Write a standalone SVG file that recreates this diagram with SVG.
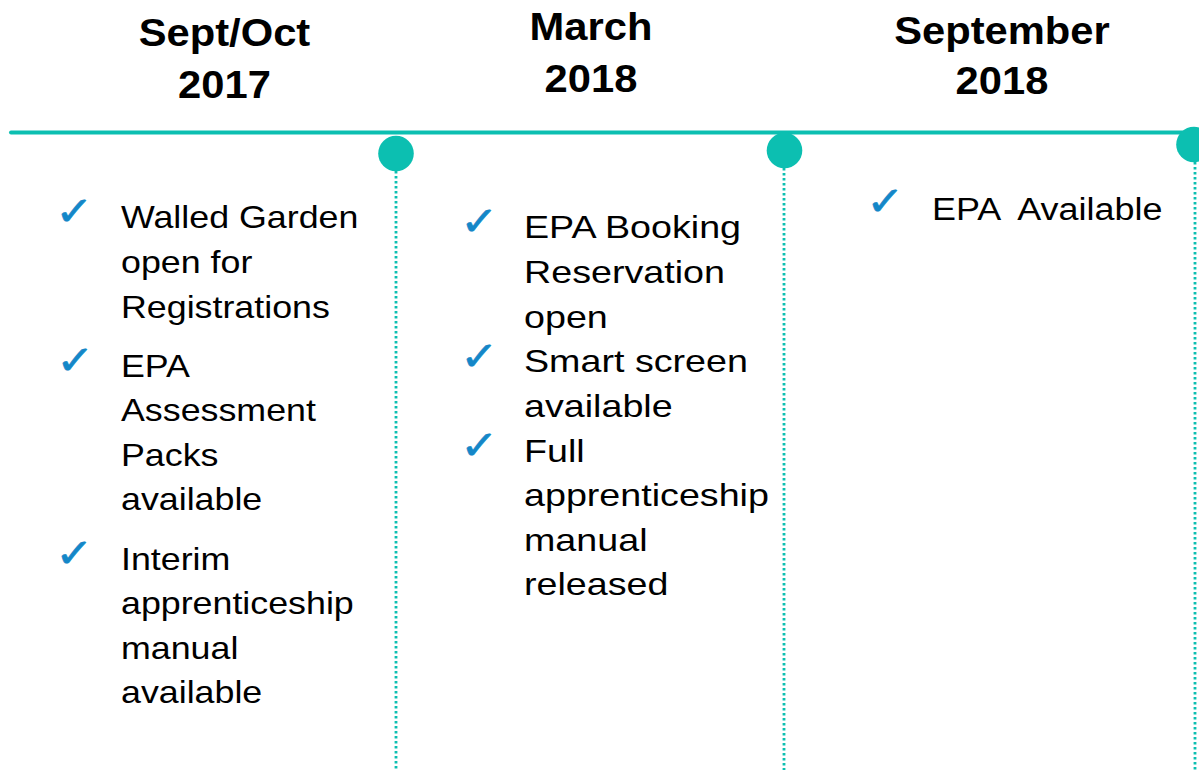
<svg xmlns="http://www.w3.org/2000/svg" width="1199" height="770" viewBox="0 0 1199 770">
<style>
.hdr{font-family:"Liberation Sans",Arial,sans-serif;font-weight:bold;font-size:39px;fill:#000;text-anchor:middle}
.body{font-family:"Liberation Sans",Arial,sans-serif;font-size:31px;fill:#000}
.chk{font-family:"DejaVu Sans",sans-serif;font-size:40px;fill:#1487C8;stroke:#1487C8;stroke-width:0.6}
.dot{stroke:#0CBFB1;stroke-width:2.8;stroke-dasharray:2.5 2.5;fill:none}
.node{fill:#0CBFB1}
</style>
<rect width="1199" height="770" fill="#fff"/>
<g id="connectors">
  <line x1="11" y1="132.5" x2="1199" y2="132.5" stroke="#0CBFB1" stroke-width="4" stroke-linecap="round"/>
  <line class="dot" x1="396" y1="171" x2="396" y2="770"/>
  <line class="dot" x1="784" y1="168" x2="784" y2="770"/>
  <line class="dot" x1="1195" y1="162" x2="1195" y2="770"/>
</g>
<g id="node-sept-oct-2017">
  <circle class="node" cx="396" cy="153.5" r="17.8"/>
  <g transform="scale(1.07,1)">
    <text class="hdr" x="209.8" y="46">Sept/Oct</text>
    <text class="hdr" x="209.8" y="98">2017</text>
  </g>
  <text class="chk" transform="translate(55,225.4) scale(1.15,1)">✓</text>
  <text class="chk" transform="translate(56,374.4) scale(1.15,1)">✓</text>
  <text class="chk" transform="translate(55,567.4) scale(1.15,1)">✓</text>
  <g transform="translate(121,0) scale(1.155,1)">
    <text class="body" x="0" y="228">Walled Garden</text>
    <text class="body" x="0" y="273">open for</text>
    <text class="body" x="0" y="318">Registrations</text>
    <text class="body" x="0" y="377">EPA</text>
    <text class="body" x="0" y="421">Assessment</text>
    <text class="body" x="0" y="466">Packs</text>
    <text class="body" x="0" y="510">available</text>
    <text class="body" x="0" y="570">Interim</text>
    <text class="body" x="0" y="614">apprenticeship</text>
    <text class="body" x="0" y="659">manual</text>
    <text class="body" x="0" y="703">available</text>
  </g>
</g>
<g id="node-march-2018">
  <circle class="node" cx="784.5" cy="150.5" r="17.8"/>
  <g transform="scale(1.07,1)">
    <text class="hdr" x="552.3" y="40">March</text>
    <text class="hdr" x="552.3" y="92">2018</text>
  </g>
  <text class="chk" transform="translate(460,235.4) scale(1.15,1)">✓</text>
  <text class="chk" transform="translate(460,370.4) scale(1.15,1)">✓</text>
  <text class="chk" transform="translate(460,459.4) scale(1.15,1)">✓</text>
  <g transform="translate(524,0) scale(1.215,1)">
    <text class="body" x="0" y="238">EPA Booking</text>
    <text class="body" x="0" y="283">Reservation</text>
    <text class="body" x="0" y="328">open</text>
    <text class="body" x="0" y="372">Smart screen</text>
    <text class="body" x="0" y="417">available</text>
    <text class="body" x="0" y="462">Full</text>
    <text class="body" x="0" y="506">apprenticeship</text>
    <text class="body" x="0" y="551">manual</text>
    <text class="body" x="0" y="595">released</text>
  </g>
</g>
<g id="node-september-2018">
  <circle class="node" cx="1194" cy="144.5" r="17.8"/>
  <g transform="scale(1.07,1)">
    <text class="hdr" x="936.4" y="44">September</text>
    <text class="hdr" x="936.4" y="94">2018</text>
  </g>
  <text class="chk" transform="translate(866,215.4) scale(1.15,1)">✓</text>
  <g transform="translate(932,0) scale(1.16,1)">
    <text class="body" x="0" y="220" xml:space="preserve">EPA  Available</text>
  </g>
</g>
</svg>
